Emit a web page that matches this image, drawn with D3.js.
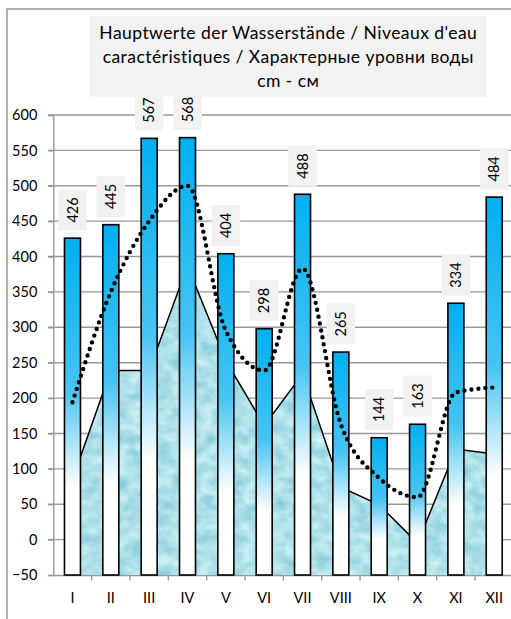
<!DOCTYPE html>
<html>
<head>
<meta charset="utf-8">
<title>Wasserstände</title>
<style>
    body { margin: 0; background: #fff; }
    svg text { font-family: Lato, "Open Sans", sans-serif; fill: #000; }
</style>
</head>
<body>
<svg id="chart" width="511" height="619"></svg>
<script src="https://cdn.jsdelivr.net/npm/d3@7"></script>
<script>
var months = ["I", "II", "III", "IV", "V", "VI", "VII", "VIII", "IX", "X", "XI", "XII"];
var barValues = [426, 445, 567, 568, 404, 298, 488, 265, 144, 163, 334, 484];
var areaValues = [85, 239, 239, 387, 253, 161, 234, 74, 49, -5, 128, 121];
var dotValues = [194, 350, 450, 500, 295, 239, 383, 163, 87, 60, 208, 215];
var yTicks = [-50, 0, 50, 100, 150, 200, 250, 300, 350, 400, 450, 500, 550, 600];
var titleLines = ["Hauptwerte der Wasserstände / Niveaux d'eau",
                  "caractéristiques / Характерные уровни воды",
                  "cm - см"];

var svg = d3.select('#chart');
var defs = svg.append('defs');

// bar gradient
var grad = defs.append('linearGradient')
    .attr('id', 'barGrad').attr('x1', 0).attr('y1', 0).attr('x2', 0).attr('y2', 1);
grad.append('stop').attr('offset', '0%').attr('stop-color', '#00b0f0');
grad.append('stop').attr('offset', '45%').attr('stop-color', '#47c4f2');
grad.append('stop').attr('offset', '74%').attr('stop-color', '#ffffff');
grad.append('stop').attr('offset', '100%').attr('stop-color', '#ffffff');

// water texture for the area
var f = defs.append('filter').attr('id', 'water').attr('color-interpolation-filters', 'sRGB');
f.append('feTurbulence').attr('type', 'fractalNoise')
    .attr('baseFrequency', '0.07 0.09').attr('numOctaves', 3).attr('seed', 7).attr('result', 'n');
f.append('feColorMatrix').attr('in', 'n').attr('type', 'matrix')
    .attr('values', '0.4 0 0 0 0.48  0.22 0 0 0 0.77  0.16 0 0 0 0.83  0 0 0 0 1')
    .attr('result', 'c');
f.append('feComposite').attr('in', 'c').attr('in2', 'SourceGraphic').attr('operator', 'in');

// outer frame
svg.append('rect')
    .attr('x', 7).attr('y', 9).attr('width', 530).attr('height', 640)
    .attr('fill', 'none').attr('stroke', '#9a9a9a').attr('stroke-width', 1.5);

var x = d3.scaleBand().domain(months).range([53.3, 513.4]).padding(0);
var y = d3.scaleLinear().domain([-50, 600]).range([575, 115]);
var cx = function(d, i) { return x(months[i]) + x.bandwidth() / 2; };
var barW = 16;

// gridlines
svg.append('g').selectAll('line')
    .data(yTicks.filter(function(d) { return d > -50; }))
    .enter().append('line')
    .attr('x1', 48).attr('x2', 520)
    .attr('y1', function(d) { return y(d); })
    .attr('y2', function(d) { return y(d); })
    .attr('stroke', '#999').attr('stroke-width', 1.4);

// y axis
var yAxis = svg.append('g')
    .attr('transform', 'translate(53.3,0)')
    .call(d3.axisLeft(y).tickValues(yTicks).tickSize(5).tickPadding(11));
yAxis.select('.domain').attr('stroke', '#999').attr('stroke-width', 1.4);
yAxis.selectAll('.tick line').attr('stroke', '#999').attr('stroke-width', 1.4);
yAxis.selectAll('text').style('font-size', '14.5px').style('font-family', 'Lato');

// x axis
var xAxis = svg.append('g')
    .attr('transform', 'translate(0,575)')
    .call(d3.axisBottom(x).tickSize(0).tickPadding(18));
xAxis.select('.domain').attr('stroke', '#999').attr('stroke-width', 1.4);
xAxis.selectAll('text').style('font-size', '14.5px').style('font-family', 'Lato');
svg.append('g').selectAll('line')
    .data(months.slice(1))
    .enter().append('line')
    .attr('x1', function(d) { return x(d); })
    .attr('x2', function(d) { return x(d); })
    .attr('y1', 575).attr('y2', 580.5)
    .attr('stroke', '#999').attr('stroke-width', 1.4);

// area
var area = d3.area()
    .x(cx).y0(y(-50)).y1(function(d) { return y(d); });
svg.append('path')
    .datum(areaValues)
    .attr('d', area)
    .attr('fill', '#b0e0e8')
    .attr('filter', 'url(#water)');
svg.append('path')
    .datum(areaValues)
    .attr('d', d3.line().x(cx).y(function(d) { return y(d); }))
    .attr('fill', 'none').attr('stroke', '#000').attr('stroke-width', 1.5);

// bars
svg.append('g').selectAll('rect')
    .data(barValues)
    .enter().append('rect')
    .attr('x', function(d, i) { return cx(d, i) - barW / 2; })
    .attr('y', function(d) { return y(d); })
    .attr('width', barW)
    .attr('height', function(d) { return y(-50) - y(d); })
    .attr('fill', 'url(#barGrad)')
    .attr('stroke', '#000').attr('stroke-width', 1.6);

// dotted smooth line
svg.append('path')
    .datum(dotValues)
    .attr('d', d3.line().x(cx).y(function(d) { return y(d); }).curve(d3.curveMonotoneX))
    .attr('fill', 'none').attr('stroke', '#000')
    .attr('stroke-width', 4.4).attr('stroke-linecap', 'round')
    .attr('stroke-dasharray', '0 7');

// value labels
var lab = svg.append('g').selectAll('g')
    .data(barValues)
    .enter().append('g')
    .attr('transform', function(d, i) { return 'translate(' + cx(d, i) + ',' + (y(d) - 7.7 - 20.5) + ')'; });
lab.append('rect')
    .attr('x', -14.2).attr('y', -20.5).attr('width', 28.4).attr('height', 41)
    .attr('fill', '#f2f2f2');
lab.append('text')
    .attr('transform', 'rotate(-90)')
    .attr('text-anchor', 'middle').attr('dy', '0.36em')
    .style('font-size', '14.5px')
    .text(function(d) { return d; });

// title
svg.append('rect')
    .attr('x', 90).attr('y', 16).attr('width', 396.7).attr('height', 80.7)
    .attr('fill', '#f2f2f2');
svg.append('g').selectAll('text')
    .data(titleLines)
    .enter().append('text')
    .attr('x', 288.3)
    .attr('y', function(d, i) { return 39 + i * 24.2; })
    .attr('text-anchor', 'middle')
    .style('font-size', '17.5px')
    .style('letter-spacing', '0.45px')
    .text(function(d) { return d; });
</script>
</body>
</html>
